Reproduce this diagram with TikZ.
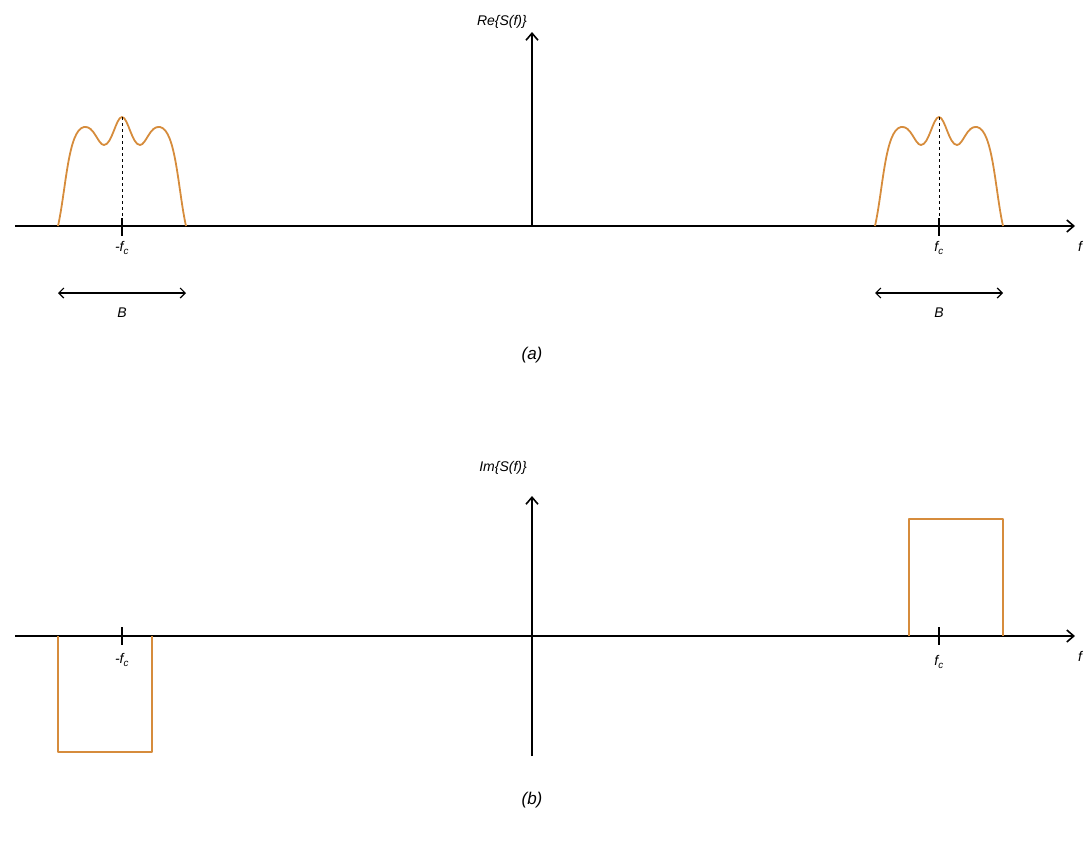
\documentclass[tikz,border=0pt]{standalone}
\usepackage{fontspec}
\setmainfont{Liberation Sans}
\usetikzlibrary{arrows.meta}
\begin{document}
\begin{tikzpicture}[x=1pt,y=-1pt,
  ax/.style={line width=1.6pt,-{Straight Barb[length=7pt,width=12pt]}},
  sp/.style={draw=spc,line width=1.8pt,line join=round},
  lbl/.style={font=\itshape\fontsize{14}{16}\selectfont,inner sep=1pt},
  tk/.style={line width=1.6pt}]
\definecolor{spc}{RGB}{214,140,60}
\useasboundingbox (0,0) rectangle (1088,844);
% (a)
\coordinate (a0) at (15,226); \coordinate (a1) at (1075,226);
\coordinate (v0) at (532,226); \coordinate (v1) at (532,32);
\draw[ax] (a0) -- (a1);
\draw[ax] (v0) -- (v1);
\node[lbl,anchor=south east] (re) at (528,30) {Re\{S(f)\}};
\node[lbl] (fa) at (1080,246) {f};
\foreach \c/\n in {122/l,939/r}{
 \draw[sp] (\c-64,226) .. controls (\c-56,190) and (\c-54,130) .. (\c-38,127)
   .. controls (\c-28,125) and (\c-24,145) .. (\c-18,145)
   .. controls (\c-10,145) and (\c-6,117) .. (\c,117)
   .. controls (\c+6,117) and (\c+10,145) .. (\c+18,145)
   .. controls (\c+24,145) and (\c+28,125) .. (\c+38,127)
   .. controls (\c+54,130) and (\c+56,190) .. (\c+64,226);
 \draw[dashed,line width=0.8pt] (\c,117) -- (\c,226);
 \draw[tk] (\c,218) -- (\c,236);
 \coordinate (b\n0) at (\c-64,293); \coordinate (b\n1) at (\c+64,293);
 \draw[line width=1.2pt,{Straight Barb[length=5pt,width=10pt]}-{Straight Barb[length=5pt,width=10pt]}] (b\n0) -- (b\n1);
 \node[lbl] (B\n) at (\c,313) {B};
}
\node[lbl] (fl) at (122,248) {-f\textsubscript{c}};
\node[lbl] (fr) at (939,248) {f\textsubscript{c}};
\node[lbl,font=\itshape\fontsize{17}{19}\selectfont] (capa) at (532,355) {(a)};
% (b)
\coordinate (c0) at (15,636); \coordinate (c1) at (1075,636);
\coordinate (w0) at (532,756); \coordinate (w1) at (532,496);
\draw[ax] (c0) -- (c1);
\draw[ax] (w0) -- (w1);
\node[lbl,anchor=south east] (im) at (528,476) {Im\{S(f)\}};
\node[lbl] (fb) at (1080,656) {f};
\draw[sp] (58,636) -- (58,752) -- (152,752) -- (152,636);
\draw[sp] (909,636) -- (909,519) -- (1003,519) -- (1003,636);
\draw[tk] (122,627) -- (122,645);
\draw[tk] (939,627) -- (939,645);
\node[lbl] (gl) at (122,660) {-f\textsubscript{c}};
\node[lbl] (gr) at (939,662) {f\textsubscript{c}};
\node[lbl,font=\itshape\fontsize{17}{19}\selectfont] (capb) at (532,800) {(b)};
\end{tikzpicture}
\end{document}
